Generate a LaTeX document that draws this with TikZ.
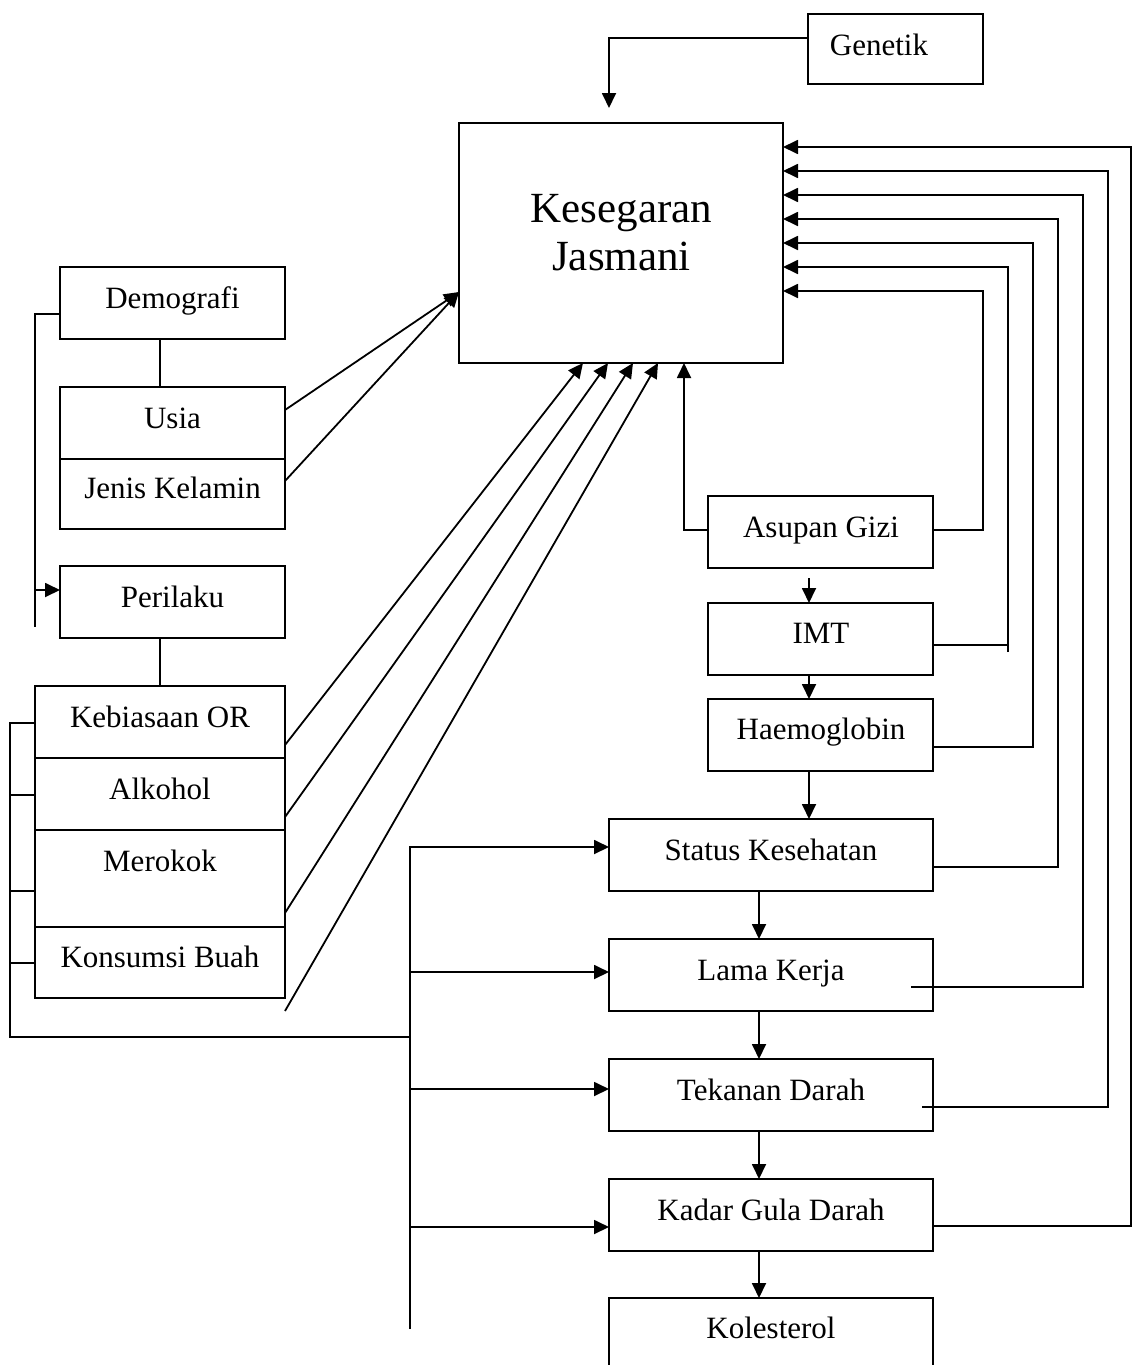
\documentclass[tikz,border=0pt]{standalone}
\usepackage{fontspec}
\setmainfont{Liberation Serif}
\usetikzlibrary{arrows.meta}
\tikzset{
  bx/.style={draw, inner sep=0pt, outer sep=0pt, anchor=north west},
  lbl/.style={inner sep=0pt, anchor=base, font=\fontsize{31}{36}\selectfont},
  biglbl/.style={inner sep=0pt, anchor=base, font=\fontsize{43}{48}\selectfont},
  arr/.style={-{Triangle[length=15pt,width=14pt]}}
}
\newcommand\dbox[5]{\node[bx, minimum width={(#4-#2)*1pt}, minimum height={(#5-#3)*1pt}] (#1) at (#2,#3) {};}
\begin{document}
\begin{tikzpicture}[x=1pt,y=-1pt,line width=1.8pt]
\path[use as bounding box] (0,0) rectangle (1132,1365);
\clip (0,0) rectangle (1132,1365);
% boxes
\dbox{gen}{808}{14}{983}{84}
\dbox{kes}{459}{123}{783}{363}
\dbox{dem}{60}{267}{285}{339}
\dbox{usia}{60}{387}{285}{459}
\dbox{jk}{60}{459}{285}{529}
\dbox{per}{60}{566}{285}{638}
\dbox{kor}{35}{686}{285}{758}
\dbox{alk}{35}{758}{285}{830}
\dbox{mer}{35}{830}{285}{927}
\dbox{kb}{35}{927}{285}{998}
\dbox{asg}{708}{496}{933}{568}
\dbox{imt}{708}{603}{933}{675}
\dbox{hb}{708}{699}{933}{771}
\dbox{sk}{609}{819}{933}{891}
\dbox{lk}{609}{939}{933}{1011}
\dbox{td}{609}{1059}{933}{1131}
\dbox{kgd}{609}{1179}{933}{1251}
\dbox{kol}{609}{1298}{933}{1395}
% labels
\node[lbl] (tgen) at (879,55) {Genetik};
\node[biglbl] (tkes1) at (621.5,222) {Kesegaran};
\node[biglbl] (tkes2) at (621.5,270) {Jasmani};
\node[lbl] (tdem) at (172.5,308) {Demografi};
\node[lbl] (tusia) at (172.5,428) {Usia};
\node[lbl] (tjk) at (172.5,498) {Jenis Kelamin};
\node[lbl] (tper) at (172.5,607) {Perilaku};
\node[lbl] (tkor) at (160,727) {Kebiasaan OR};
\node[lbl] (talk) at (160,799) {Alkohol};
\node[lbl] (tmer) at (160,871) {Merokok};
\node[lbl] (tkb) at (160,967) {Konsumsi Buah};
\node[lbl] (tasg) at (821,537) {Asupan Gizi};
\node[lbl] (timt) at (821,643) {IMT};
\node[lbl] (thb) at (821,739) {Haemoglobin};
\node[lbl] (tsk) at (771,860) {Status Kesehatan};
\node[lbl] (tlk) at (771,980) {Lama Kerja};
\node[lbl] (ttd) at (771,1100) {Tekanan Darah};
\node[lbl] (tkgd) at (771,1220) {Kadar Gula Darah};
\node[lbl] (tkol) at (771,1338) {Kolesterol};
% free ends
\coordinate (gtip) at (609,108);
\coordinate (lkstart) at (911,987);
\coordinate (tdstart) at (922,1107);
\coordinate (imtv) at (1008,652);
\coordinate (asgstart) at (809,578);
\coordinate (kbstart) at (285,1011);
\coordinate (busend) at (410,1329);
\coordinate (perend) at (35,627);
% Genetik
\draw[arr] (gen.west |- 0,38) -| (gtip);
% feedback arrows on the right
\draw[arr] (asg.east |- 0,530) -| (983,291) -- (kes.east |- 0,291);
\draw (imt.east |- 0,645) -- (imtv |- 0,645);
\draw[arr] (imtv) |- (kes.east |- 0,267);
\draw[arr] (hb.east |- 0,747) -| (1033,243) -- (kes.east |- 0,243);
\draw[arr] (sk.east |- 0,867) -| (1058,219) -- (kes.east |- 0,219);
\draw[arr] (lkstart) -| (1083,195) -- (kes.east |- 0,195);
\draw[arr] (tdstart) -| (1108,171) -- (kes.east |- 0,171);
\draw[arr] (kgd.east |- 0,1226) -| (1131,147) -- (kes.east |- 0,147);
% Asupan up to Kesegaran
\draw[arr] (asg.west |- 0,530) -| (kes.south -| 684,0);
% vertical chain
\draw[arr] (asgstart) -- (imt.north -| asgstart);
\draw[arr] (imt.south -| 809,0) -- (hb.north -| 809,0);
\draw[arr] (hb.south -| 809,0) -- (sk.north -| 809,0);
\draw[arr] (sk.south -| 759,0) -- (lk.north -| 759,0);
\draw[arr] (lk.south -| 759,0) -- (td.north -| 759,0);
\draw[arr] (td.south -| 759,0) -- (kgd.north -| 759,0);
\draw[arr] (kgd.south -| 759,0) -- (kol.north -| 759,0);
% Demografi / Perilaku structure
\draw (dem.west |- 0,314) -| (perend);
\draw[arr] (35,590) -- (per.west |- 0,590);
\draw (dem.south -| 160,0) -- (usia.north -| 160,0);
\draw (per.south -| 160,0) -- (kor.north -| 160,0);
% Usia, Jenis Kelamin to Kesegaran
\draw[arr] (usia.east |- 0,410) -- (kes.west |- 0,292);
\draw[arr] (jk.east |- 0,481) -- (kes.west |- 0,292);
% behaviour diagonals
\draw[arr] (kor.east |- 0,745) -- (kes.south -| 583,0);
\draw[arr] (alk.east |- 0,817) -- (kes.south -| 608,0);
\draw[arr] (mer.east |- 0,913) -- (kes.south -| 633,0);
\draw[arr] (kbstart) -- (kes.south -| 658,0);
% left bus
\draw (kor.west |- 0,723) -- (10,723) -- (10,1037) -- (410,1037);
\draw (alk.west |- 0,795) -- (10,795);
\draw (mer.west |- 0,891) -- (10,891);
\draw (kb.west |- 0,963) -- (10,963);
\draw[arr] (busend) |- (sk.west |- 0,847);
\draw[arr] (410,972) -- (lk.west |- 0,972);
\draw[arr] (410,1089) -- (td.west |- 0,1089);
\draw[arr] (410,1227) -- (kgd.west |- 0,1227);
\end{tikzpicture}
\end{document}
